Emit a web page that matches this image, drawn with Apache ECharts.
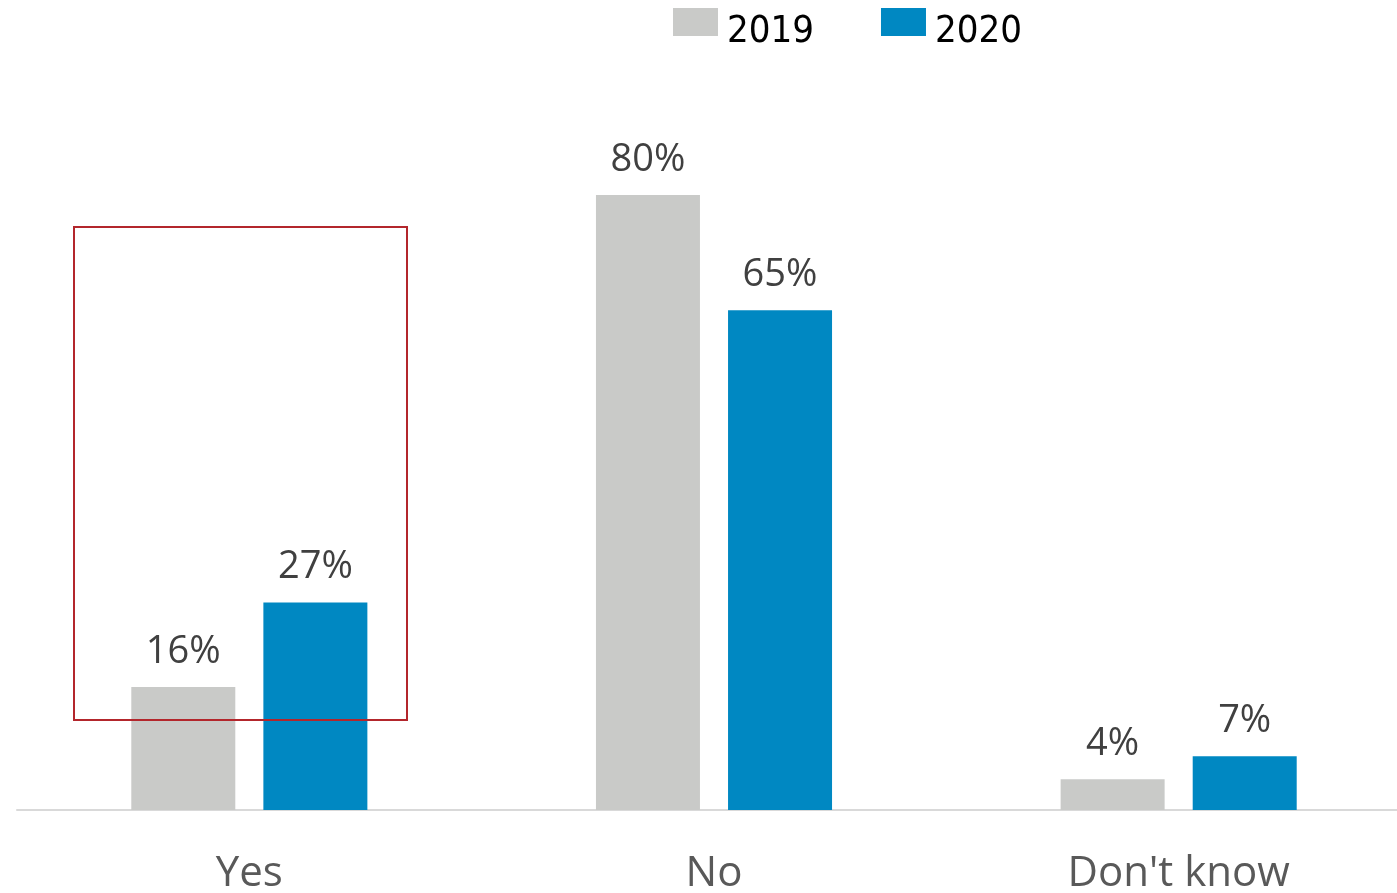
<!DOCTYPE html>
<html><head><meta charset="utf-8">
<script src="https://cdn.jsdelivr.net/npm/echarts@6/dist/echarts.min.js"></script>
<style>html,body{margin:0;padding:0;background:#fff;overflow:hidden;width:1397px;height:893px}#c{width:1411px;height:893px}</style>
</head><body><div id="c"></div>
<script>
const categories = ["Yes", "No", "Don't know"];
const seriesNames = ["2019", "2020"];
const values2019 = [16, 80, 4];
const values2020 = [27, 65, 7];

const chart = echarts.init(document.getElementById('c'));
const legendFont = '"Liberation Sans Narrow", "Arial Narrow", "DejaVu Sans Condensed", sans-serif';
const labelStyle = {
  show: true, position: 'top', distance: 16,
  formatter: p => p.value + '%',
  fontFamily: 'Open Sans', fontSize: 38, color: '#404040'
};
chart.setOption({
  animation: false,
  legend: {
    data: seriesNames, top: -7, left: 673, padding: 0,
    itemWidth: 45, itemHeight: 28, itemGap: 66,
    icon: 'rect',
    formatter: '{a|{name}}{b| }',
    textStyle: {
      fontFamily: legendFont, fontSize: 38, color: '#000',
      rich: {
        a: { fontFamily: legendFont, fontSize: 38, color: '#000', lineHeight: 38, verticalAlign: 'bottom', padding: [0, 0, 0, 4] },
        b: { fontSize: 2, width: 1, height: 58, lineHeight: 58 }
      }
    }
  },
  grid: { left: 17, right: 0, top: 195, bottom: 83, outerBoundsMode: 'none', containLabel: false },
  xAxis: {
    type: 'category', data: categories,
    axisLine: { lineStyle: { color: '#D9D9D9', width: 2 } },
    axisTick: { show: false },
    axisLabel: { fontFamily: 'Open Sans', fontSize: 42, color: '#595959', margin: 43 }
  },
  yAxis: { type: 'value', min: 0, max: 80, show: false, splitLine: { show: false } },
  series: [
    { name: '2019', type: 'bar', data: values2019, barWidth: 104, barGap: '27%',
      itemStyle: { color: '#C9CAC8' }, label: labelStyle },
    { name: '2020', type: 'bar', data: values2020, barWidth: 104, barGap: '27%',
      itemStyle: { color: '#0088C2' }, label: labelStyle }
  ],
  graphic: [{
    type: 'rect', shape: { x: 74, y: 227, width: 333, height: 493 },
    style: { fill: 'none', stroke: '#B3262C', lineWidth: 2 }, z: 100
  }]
});
</script></body></html>
